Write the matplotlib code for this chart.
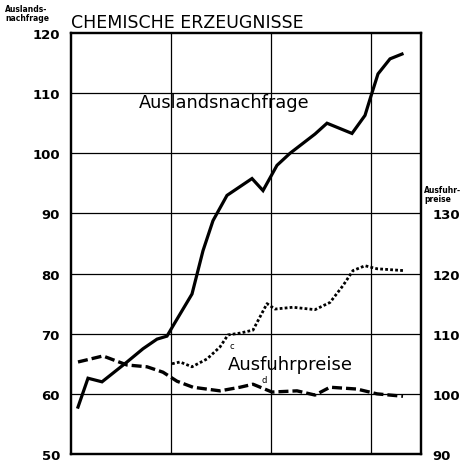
import matplotlib
matplotlib.use("Agg")
import matplotlib.pyplot as plt

# Auslandsnachfrage (left axis)
t_nach = [0.7, 1.7, 3.1, 5.6, 7.2, 8.6, 9.6, 10.2, 12.1, 13.2, 14.2, 15.6, 18.1, 19.2,
          20.6, 21.9, 24.4, 25.6, 28.1, 29.4, 29.9, 30.7, 31.9, 33.1]
nachfrage = [57.8, 62.6, 62.0, 65.3, 67.5, 69.1, 69.6, 71.3, 76.6, 83.8, 88.8, 93.0, 95.8, 93.8,
             98.0, 100.0, 103.2, 105.0, 103.3, 106.3, 109.0, 113.2, 115.7, 116.5]

# Ausfuhrpreise d (right axis, dashed)
t_d = [0.7, 3.2, 5.6, 7.6, 9.2, 10.6, 12.2, 14.9, 16.9, 18.2, 20.1, 22.6, 24.4, 25.9, 28.6, 30.6, 33.2]
preise_d = [105.3, 106.3, 104.8, 104.5, 103.6, 102.1, 101.1, 100.5, 101.1, 101.6, 100.3, 100.5,
            99.8, 101.1, 100.8, 100.0, 99.6]

# Ausfuhrpreise c (right axis, dotted)
t_c = [10.1, 10.9, 12.1, 13.6, 14.9, 15.7, 16.9, 18.2, 19.6, 20.4, 22.2, 24.4, 25.9, 27.2,
       28.2, 29.4, 30.6, 33.2]
preise_c = [105.0, 105.3, 104.5, 105.8, 107.8, 109.8, 110.1, 110.6, 115.0, 114.1, 114.4, 114.0,
            115.2, 118.0, 120.5, 121.3, 120.8, 120.5]

left_ticks = [50, 60, 70, 80, 90, 100, 110, 120]
right_ticks = [90, 100, 110, 120, 130]

plt.rcParams['font.family'] = ['DejaVu Sans']
fig = plt.figure(figsize=(4.75, 4.64), dpi=100)
ax = fig.add_axes([71/475, 1-455/464, 350/475, 421/464])
ax.set_xlim(0, 35)
ax.set_ylim(50, 120)
ax.set_yticks(left_ticks)
ax.set_yticklabels([str(v) for v in left_ticks], fontsize=9.5, fontweight='bold')
ax.set_xticks([])
ax.tick_params(axis='y', length=0, pad=8)
for v in left_ticks[1:-1]:
    ax.axhline(v, color='black', lw=0.9, zorder=1)
for v in [10, 20, 30]:
    ax.axvline(v, color='black', lw=0.9, zorder=1)
for s in ax.spines.values():
    s.set_linewidth(1.6)

ax.plot(t_nach, nachfrage, color='black', lw=2.3, solid_joinstyle='miter', zorder=3)

ax2 = ax.twinx()
ax2.set_ylim(90, 160)
ax2.set_yticks(right_ticks)
ax2.set_yticklabels([str(v) for v in right_ticks], fontsize=9.5, fontweight='bold')
ax2.tick_params(axis='y', length=0, pad=8)
for s in ax2.spines.values():
    s.set_linewidth(1.6)
ax2.plot(t_d, preise_d, color='black', lw=2.4, linestyle=(0, (3, 1.2)), zorder=3)
ax2.plot(t_c, preise_c, color='black', lw=2.0, linestyle=(0, (1, 0.8)), zorder=3)

ax.text(6.8, 108.6, 'Auslandsnachfrage', fontsize=12.8, va='center', ha='left')
ax.text(15.7, 65.0, 'Ausfuhrpreise', fontsize=13, va='center', ha='left')
ax.text(15.8, 68.0, 'c', fontsize=6, va='center', ha='left')
ax.text(19.0, 62.4, 'd', fontsize=6, va='center', ha='left')

fig.text(71/475, 1-28/464, 'CHEMISCHE ERZEUGNISSE', fontsize=12.5, va='baseline', ha='left')
fig.text(5/475, 1-5/464, 'Auslands-\nnachfrage', fontsize=5.5, fontweight='bold',
         va='top', ha='left', linespacing=1.0)
fig.text(424/475, 1-186/464, 'Ausfuhr-\npreise', fontsize=5.5, fontweight='bold',
         va='top', ha='left', linespacing=1.0)

fig.savefig('out.png', dpi=100)
